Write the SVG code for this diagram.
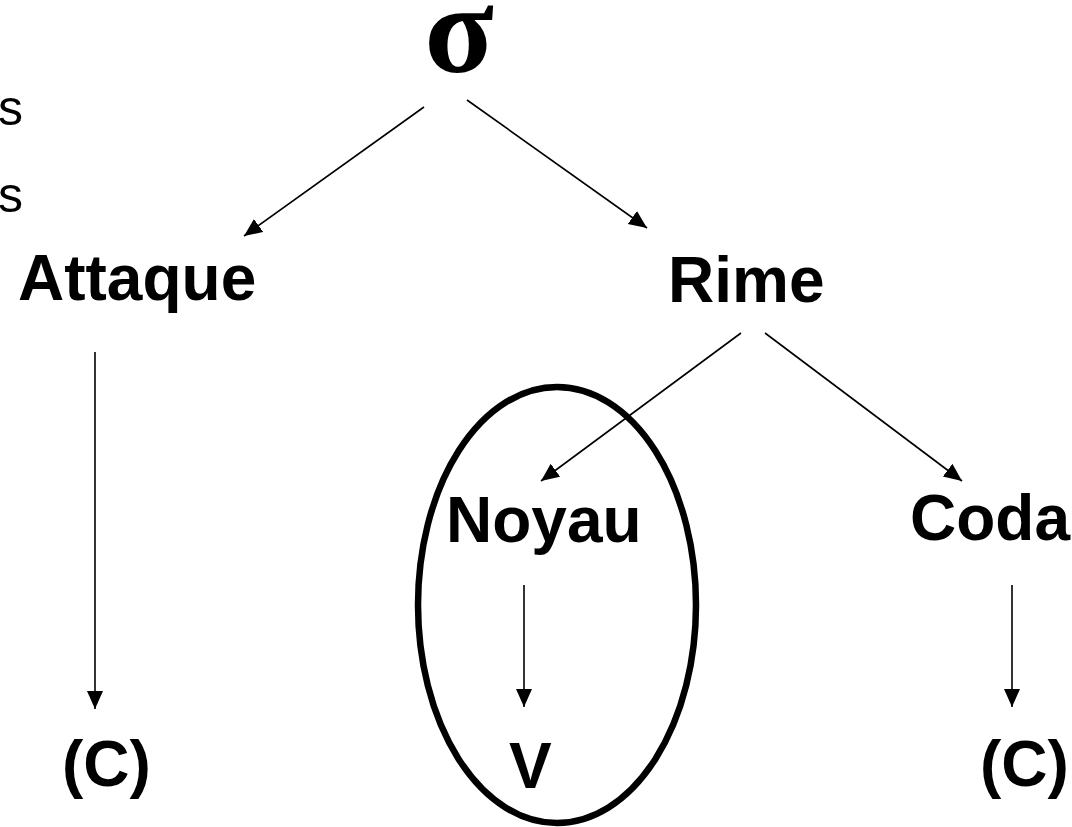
<svg xmlns="http://www.w3.org/2000/svg" width="1072" height="827" viewBox="0 0 1072 827">
<style>
.lbl{font-family:"Liberation Sans",Arial,sans-serif;font-weight:bold;font-size:64px;fill:#000}
.side{font-family:"Liberation Sans",Arial,sans-serif;font-size:50px;fill:#000}
.sig{font-family:"Liberation Serif","Times New Roman",serif;font-weight:bold;font-size:128px;fill:#000}
.edge{stroke:#000;stroke-width:1.6;fill:none;marker-end:url(#ah)}
</style>
<defs>
<marker id="ah" markerUnits="userSpaceOnUse" markerWidth="19" markerHeight="17" refX="18" refY="8" orient="auto">
<path d="M0,0 L18,8 L0,16 z" fill="#000"/>
</marker>
</defs>
<rect width="1072" height="827" fill="#fff"/>
<g id="side-texts">
<text class="side" x="-2" y="125">s</text>
<text class="side" x="-2" y="212">s</text>
</g>
<g id="sigma"><text class="sig" x="459" y="72" text-anchor="middle">σ</text></g>
<g id="attaque"><text class="lbl" x="18" y="300">Attaque</text></g>
<g id="rime"><text class="lbl" x="668" y="302">Rime</text></g>
<g id="noyau-group">
<ellipse cx="557" cy="605" rx="139" ry="218" fill="none" stroke="#000" stroke-width="6.5"/>
</g>
<g id="noyau"><text class="lbl" x="446" y="542">Noyau</text></g>
<g id="coda"><text class="lbl" x="910" y="540">Coda</text></g>
<g id="c-left"><text class="lbl" x="62" y="786">(C)</text></g>
<g id="v"><text class="lbl" x="509" y="788">V</text></g>
<g id="c-right"><text class="lbl" x="980" y="786">(C)</text></g>
<g id="connectors">
<line class="edge" x1="424" y1="107" x2="244" y2="236"/>
<line class="edge" x1="467" y1="100" x2="647" y2="228"/>
<line class="edge" x1="95" y1="352" x2="95" y2="709"/>
<line class="edge" x1="741" y1="333" x2="541" y2="481"/>
<line class="edge" x1="765" y1="333" x2="962" y2="481"/>
<line class="edge" x1="524" y1="585" x2="524" y2="707"/>
<line class="edge" x1="1012" y1="585" x2="1012" y2="707"/>
</g>
</svg>
